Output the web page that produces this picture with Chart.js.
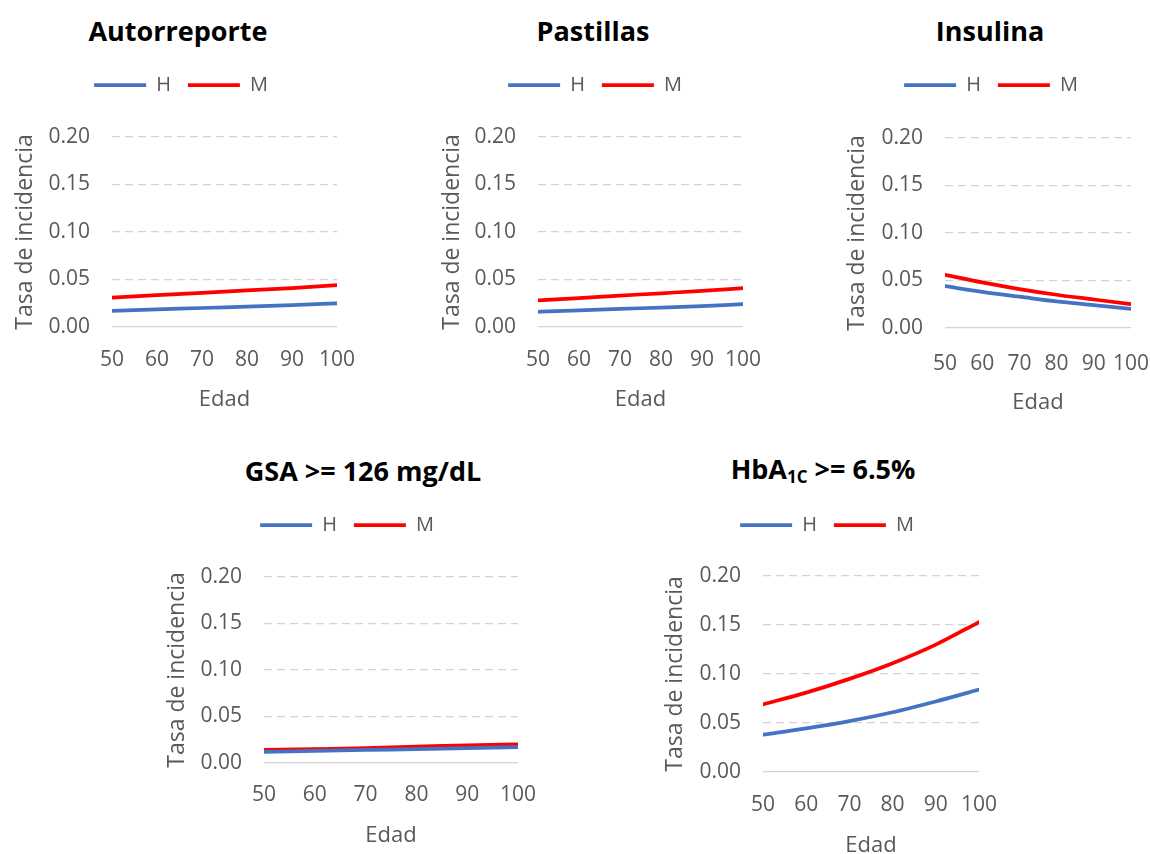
<!DOCTYPE html>
<html>
<head>
<meta charset="utf-8">
<script src="https://cdn.jsdelivr.net/npm/chart.js@4.4.1/dist/chart.umd.min.js"></script>
<style>
  html, body { margin: 0; padding: 0; background: #fff; }
  body { width: 1150px; height: 854px; position: relative; overflow: hidden; font-family: "Open Sans", sans-serif; }
  .box { position: absolute; }
  .ttl { position: absolute; transform: translate(-50%, -50%); font-weight: bold; font-size: 27px; color: #000; white-space: nowrap; }
  .ttl sub { font-size: 17px; vertical-align: baseline; position: relative; top: 4px; }
</style>
</head>
<body>
<div class="ttl" style="left:178px; top:30px;">Autorreporte</div>
<div class="ttl" style="left:593px; top:30px;">Pastillas</div>
<div class="ttl" style="left:990px; top:30px;">Insulina</div>
<div class="ttl" style="left:363px; top:470px;">GSA &gt;= 126 mg/dL</div>
<div class="ttl" style="left:823px; top:468px;">HbA<sub>1C</sub> &gt;= 6.5%</div>

<div class="box" id="b1"><canvas id="c1"></canvas></div>
<div class="box" id="b2"><canvas id="c2"></canvas></div>
<div class="box" id="b3"><canvas id="c3"></canvas></div>
<div class="box" id="b4"><canvas id="c4"></canvas></div>
<div class="box" id="b5"><canvas id="c5"></canvas></div>

<script>
// ages on the x axis
var edades = [50, 60, 70, 80, 90, 100];
var yTicks = [0, 0.05, 0.10, 0.15, 0.20];

// incidence rates, H = hombres, M = mujeres
var autorreporteH = [0.017, 0.0185, 0.020, 0.0215, 0.023, 0.025];
var autorreporteM = [0.031, 0.0335, 0.036, 0.0385, 0.041, 0.044];
var pastillasH = [0.016, 0.0175, 0.019, 0.0205, 0.022, 0.024];
var pastillasM = [0.028, 0.0305, 0.033, 0.0355, 0.038, 0.041];
var insulinaH = [0.044, 0.038, 0.033, 0.028, 0.024, 0.020];
var insulinaM = [0.056, 0.048, 0.041, 0.035, 0.030, 0.025];
var gsaH = [0.012, 0.013, 0.014, 0.015, 0.016, 0.017];
var gsaM = [0.014, 0.015, 0.016, 0.0175, 0.019, 0.020];
var hbaH = [0.038, 0.0445, 0.052, 0.061, 0.072, 0.084];
var hbaM = [0.069, 0.081, 0.095, 0.111, 0.130, 0.153];

var gris = '#595959';
var fontFam = '"Open Sans", sans-serif';

var toPoints = function(vals) {
	return vals.map(function(v, i) { return { x: edades[i], y: v }; });
};

// stretch the legend box so the plot starts lower, like the Excel panels
var legendSpace = {
	id : 'legendSpace',
	beforeLayout : function(chart, args, opts) {
		var lg = chart.legend;
		if (lg && !lg._stretched) {
			var fit = lg.fit;
			lg.fit = function() {
				fit.call(this);
				this.height = opts.height;
			};
			lg._stretched = true;
		}
	}
};

// g: layout of one panel in page pixels
var makeChart = function(id, g, serieH, serieM) {
	var w = g.right - g.left, h = g.bottom - g.top;
	var box = document.getElementById('b' + id);
	box.style.left = g.left + 'px';
	box.style.top = g.top + 'px';
	var cv = document.getElementById('c' + id);
	cv.width = w; cv.height = h;
	cv.style.width = w + 'px'; cv.style.height = h + 'px';

	var config = {
		type : 'line',
		data : {
			datasets : [ {
				label : 'H',
				data : toPoints(serieH),
				borderColor : '#4472C4',
				backgroundColor : '#4472C4',
				borderWidth : 3.75,
				borderCapStyle : 'round',
				pointRadius : 0,
				cubicInterpolationMode : 'monotone'
			}, {
				label : 'M',
				data : toPoints(serieM),
				borderColor : '#FF0000',
				backgroundColor : '#FF0000',
				borderWidth : 3.75,
				borderCapStyle : 'round',
				pointRadius : 0,
				cubicInterpolationMode : 'monotone'
			} ]
		},
		plugins : [ legendSpace ],
		options : {
			responsive : false,
			animation : false,
			devicePixelRatio : 1,
			layout : { padding : 0 },
			plugins : {
				tooltip : { enabled : false },
				legendSpace : { height : g.plotTop - g.top },
				legend : {
					position : 'top',
					labels : {
						usePointStyle : true,
						pointStyle : 'line',
						pointStyleWidth : 52,
						color : gris,
						padding : 17,
						font : { family : fontFam, size : 20 }
					}
				}
			},
			scales : {
				x : {
					type : 'linear',
					min : 50,
					max : 100,
					grid : { display : false },
					border : { display : false },
					ticks : {
						stepSize : 10,
						autoSkip : false,
						maxRotation : 0,
						padding : g.xPad,
						color : gris,
						font : { family : fontFam, size : 21 }
					},
					title : {
						display : true,
						text : 'Edad',
						color : gris,
						padding : 0,
						font : { family : fontFam, size : 22 }
					},
					afterFit : function(scale) {
						scale.height = g.bottom - g.plotBottom;
						scale.paddingRight = g.right - g.plotRight;
					}
				},
				y : {
					min : 0,
					max : 0.2,
					afterBuildTicks : function(scale) {
						scale.ticks = yTicks.map(function(v) { return { value : v }; });
					},
					grid : {
						color : '#d4d4d4',
						lineWidth : 1.2,
						drawTicks : false
					},
					border : {
						display : false,
						dash : function(ctx) {
							return (ctx.tick && ctx.tick.value === 0) ? [] : [8, 5];
						}
					},
					ticks : {
						padding : 22,
						color : gris,
						font : { family : fontFam, size : 21 },
						callback : function(v) { return v.toFixed(2); }
					},
					title : {
						display : true,
						text : 'Tasa de incidencia',
						color : gris,
						padding : { top : 12, bottom : 0 },
						font : { family : fontFam, size : 23 }
					},
					afterFit : function(scale) {
						scale.width = g.plotLeft - g.left;
					}
				}
			}
		}
	};
	return new Chart(cv.getContext('2d'), config);
};

makeChart(1, { left : 0, right : 362, top : 58, bottom : 413, plotLeft : 112, plotRight : 337, plotTop : 137, plotBottom : 327, xPad : 12 }, autorreporteH, autorreporteM);
makeChart(2, { left : 427, right : 763, top : 58, bottom : 413, plotLeft : 538, plotRight : 743, plotTop : 137, plotBottom : 327, xPad : 12 }, pastillasH, pastillasM);
makeChart(3, { left : 832, right : 1150, top : 58, bottom : 416, plotLeft : 945, plotRight : 1131, plotTop : 138, plotBottom : 328, xPad : 15 }, insulinaH, insulinaM);
makeChart(4, { left : 152, right : 542, top : 498, bottom : 849, plotLeft : 264, plotRight : 518, plotTop : 577, plotBottom : 763, xPad : 11 }, gsaH, gsaM);
makeChart(5, { left : 650, right : 1004, top : 498, bottom : 859, plotLeft : 763, plotRight : 979, plotTop : 576, plotBottom : 772, xPad : 12 }, hbaH, hbaM);
</script>
</body>
</html>
